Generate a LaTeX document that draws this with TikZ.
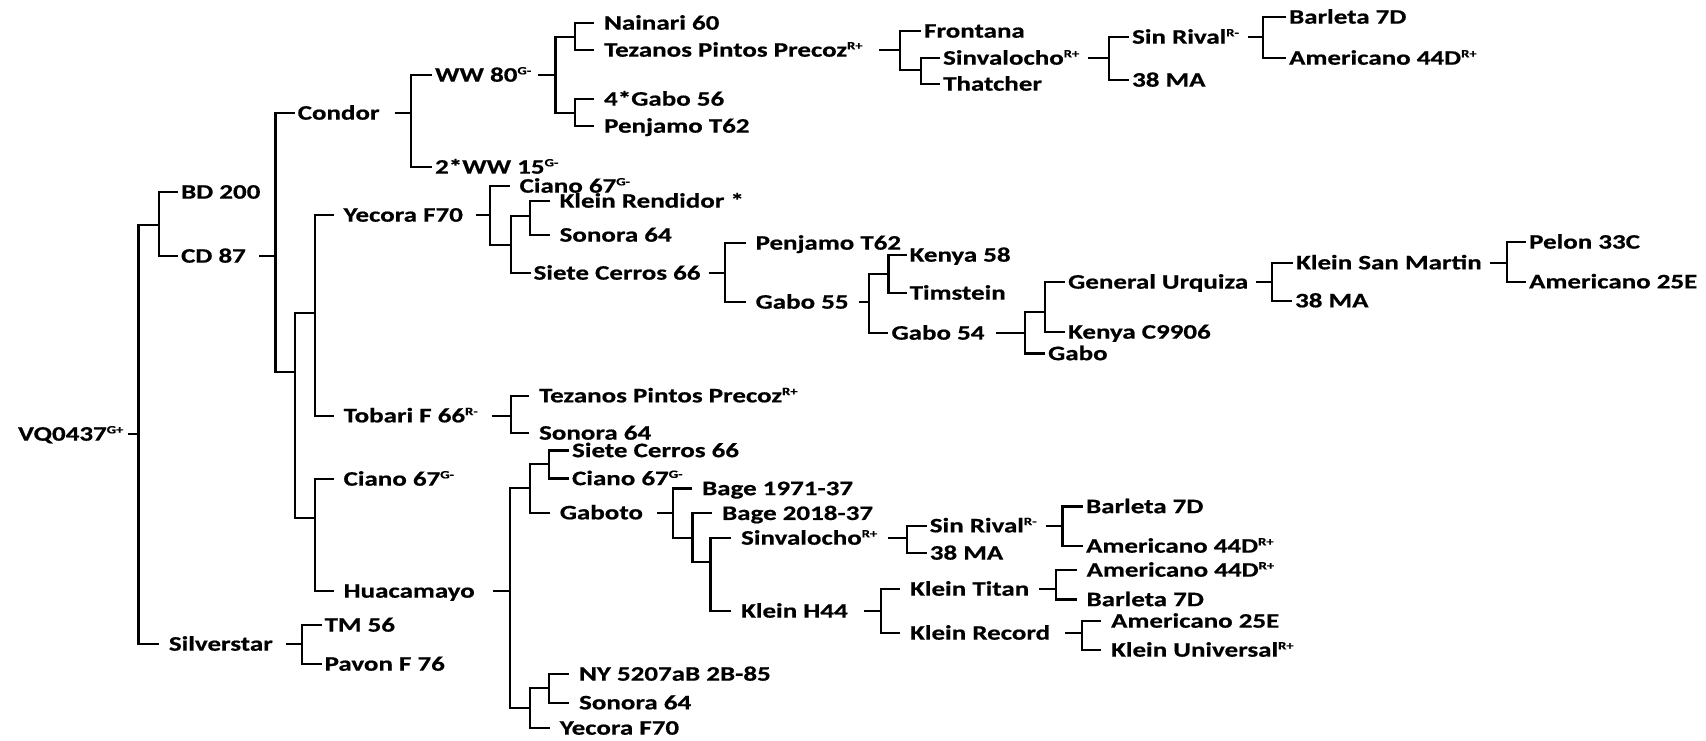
\documentclass[tikz,border=0pt]{standalone}
\usepackage{fontspec}
\setmainfont{Carlito}[FakeStretch=1.31,FakeBold=0.6]
\newcommand\gene[1]{\textsuperscript{\fontsize{5.6}{6}\selectfont #1}}
\begin{document}
\begin{tikzpicture}[x=0.5pt,y=-0.5pt,line width=1.1pt,
  lbl/.style={anchor=west,inner ysep=0pt,inner xsep=1pt,text height=8pt,text depth=1.35pt,font=\fontsize{10.3}{12}\selectfont\bfseries},
  wide/.style={lbl,inner xsep=4.5pt},
  stem/.style={shorten <=#1},stem/.default=2.5pt]
\useasboundingbox (0,0) rectangle (1706,740);

\node[lbl] (vq) at (15,434) {VQ0437\gene{G+}};
\coordinate (jroot) at (138.5,0 |- vq);
\coordinate (jbc) at (158.8,225);
\node[lbl] (bd) at (178,192) {BD 200};
\node[lbl] (cd) at (178,256) {CD 87};
\coordinate (jcd) at (275.5,0 |- cd);
\node[lbl] (condor) at (294.6,113) {Condor};
\coordinate (jcond) at (411,0 |- condor);
\node[lbl] (ww80) at (432,75) {WW 80\gene{G-}};
\node[lbl] (ww15) at (432,167) {2*WW 15\gene{G-}};
\coordinate (jww) at (555.5,0 |- ww80);
\coordinate (jwwa) at (574.6,37);
\coordinate (jwwb) at (574.6,113);
\node[wide] (nainari) at (594,23) {Nainari 60};
\node[wide] (tezanos1) at (594,50) {Tezanos Pintos Precoz\gene{R+}};
\node[wide] (gabo56) at (594,99) {4*Gabo 56};
\node[wide] (penjamo1) at (594,126) {Penjamo T62};
\coordinate (jtez) at (900,0 |- tezanos1);
\node[lbl] (frontana) at (921,31) {Frontana};
\coordinate (jtezb) at (921,70);
\node[lbl] (sinval1) at (940,58) {Sinvalocho\gene{R+}};
\node[lbl] (thatcher) at (940,84) {Thatcher};
\coordinate (jsin1) at (1109,0 |- sinval1);
\node[lbl] (sinrival1) at (1129,37) {Sin Rival\gene{R-}};
\node[lbl] (ma1) at (1129,80) {38 MA};
\coordinate (jsr1) at (1263,0 |- sinrival1);
\node[lbl] (barleta1) at (1286,17) {Barleta 7D};
\node[lbl] (am44a) at (1286,58) {Americano 44D\gene{R+}};

\coordinate (ja) at (294.7,372);
\coordinate (jb) at (314.6,313);
\coordinate (jc) at (314.6,518);
\node[wide] (yecora1) at (333.5,215) {Yecora F70};
\node[wide] (tobari) at (333.5,415.7) {Tobari F 66\gene{R-}};
\coordinate (jyec) at (490,0 |- yecora1);
\node[wide] (ciano1) at (509.5,186) {Ciano 67\gene{G-}};
\coordinate (jyecb) at (511,245);
\coordinate (jyecc) at (530,216);
\node[wide] (rendidor) at (549.5,201) {Klein Rendidor *};
\node[wide] (sonora1) at (549.5,235) {Sonora 64};
\node[lbl] (siete1) at (530.5,273) {Siete Cerros 66};
\coordinate (jsiete) at (725,0 |- siete1);
\node[wide] (penjamo2) at (745.5,243) {Penjamo T62};
\node[wide] (gabo55) at (745.5,302) {Gabo 55};
\coordinate (jg55) at (869,0 |- gabo55);
\coordinate (jg55b) at (888.4,274);
\node[lbl] (kenya58) at (906.5,255) {Kenya 58};
\node[lbl] (timstein) at (906.5,293) {Timstein};
\node[lbl] (gabo54) at (888.4,333) {Gabo 54};
\coordinate (jg54) at (1024.8,0 |- gabo54);
\coordinate (jg54b) at (1045,311.7);
\node[lbl] (urquiza) at (1065,282) {General Urquiza};
\node[lbl] (kenyac) at (1065,332) {Kenya C9906};
\node[lbl] (gabo) at (1045,353.5) {Gabo};
\coordinate (jurq) at (1272,0 |- urquiza);
\node[lbl] (ksm) at (1293,262.7) {Klein San Martin};
\node[lbl] (ma2) at (1292,300.7) {38 MA};
\coordinate (jksm) at (1506.6,0 |- ksm);
\node[lbl] (pelon) at (1526,242) {Pelon 33C};
\node[lbl] (am25a) at (1526,281.7) {Americano 25E};

\coordinate (jtob) at (511,0 |- tobari);
\node[wide] (tezanos2) at (529,395.7) {Tezanos Pintos Precoz\gene{R+}};
\node[wide] (sonora2) at (529,433) {Sonora 64};

\node[wide] (ciano2) at (333.5,479) {Ciano 67\gene{G-}};
\node[wide] (huaca) at (333.5,591) {Huacamayo};
\coordinate (jhua) at (510,0 |- huaca);
\coordinate (jh1) at (529.8,488.3);
\coordinate (jh1a) at (549,464.3);
\node[lbl] (siete2) at (569,450.5) {Siete Cerros 66};
\node[lbl] (ciano3) at (569,478.5) {Ciano 67\gene{G-}};
\node[wide] (gaboto) at (549.7,512.7) {Gaboto};
\coordinate (jgab) at (673,0 |- gaboto);
\node[wide] (bage1) at (692,488.5) {Bage 1971-37};
\coordinate (jgabb) at (692.5,537.7);
\node[wide] (bage2) at (712,513.3) {Bage 2018-37};
\coordinate (jgabc) at (710.5,562.3);
\node[wide] (sinval2) at (731,538) {Sinvalocho\gene{R+}};
\node[wide] (kh44) at (731,611) {Klein H44};
\coordinate (jsin2) at (906.8,0 |- sinval2);
\node[lbl] (sinrival2) at (926.7,525.7) {Sin Rival\gene{R-}};
\node[lbl] (ma3) at (926.7,553) {38 MA};
\coordinate (jsr2) at (1062.5,0 |- sinrival2);
\node[lbl] (barleta2) at (1083,506.5) {Barleta 7D};
\node[lbl] (am44b) at (1083,546) {Americano 44D\gene{R+}};
\coordinate (jkh) at (880.8,0 |- kh44);
\node[wide] (ktitan) at (900,589) {Klein Titan};
\node[wide] (krecord) at (900,633) {Klein Record};
\coordinate (jkt) at (1056,0 |- ktitan);
\node[wide] (am44c) at (1076.5,570) {Americano 44D\gene{R+}};
\node[wide] (barleta3) at (1076.5,599.5) {Barleta 7D};
\coordinate (jkr) at (1081.7,0 |- krecord);
\node[wide] (am25b) at (1101,621) {Americano 25E};
\node[wide] (kuniv) at (1101,650) {Klein Universal\gene{R+}};

\coordinate (jh2) at (529.8,708.3);
\coordinate (jh2a) at (549,688.3);
\node[wide] (ny) at (569,674) {NY 5207aB 2B-85};
\node[wide] (sonora3) at (569,702.7) {Sonora 64};
\node[wide] (yecora2) at (549.7,728) {Yecora F70};

\node[wide] (silver) at (158.8,644) {Silverstar};
\coordinate (jsil) at (301.6,0 |- silver);
\node[lbl] (tm56) at (321.5,625) {TM 56};
\node[lbl] (pavon) at (321.5,664) {Pavon F 76};

\draw (vq) -- (jroot);
\draw (jroot) |- (jbc) (jroot) |- (silver);
\draw (jbc) |- (bd) (jbc) |- (cd);
\draw[stem=5pt] (cd) -- (jcd);
\draw (jcd) |- (condor) (jcd) |- (ja);
\draw[stem=6pt] (condor) -- (jcond);
\draw (jcond) |- (ww80) (jcond) |- (ww15);
\draw[stem=1.5pt] (ww80) -- (jww);
\draw (jww) |- (jwwa) (jww) |- (jwwb);
\draw (jwwa) |- (nainari) (jwwa) |- (tezanos1);
\draw (jwwb) |- (gabo56) (jwwb) |- (penjamo1);
\draw[stem] (tezanos1) -- (jtez);
\draw (jtez) |- (frontana) (jtez) |- (jtezb);
\draw (jtezb) |- (sinval1) (jtezb) |- (thatcher);
\draw[stem] (sinval1) -- (jsin1);
\draw (jsin1) |- (sinrival1) (jsin1) |- (ma1);
\draw[stem] (sinrival1) -- (jsr1);
\draw (jsr1) |- (barleta1) (jsr1) |- (am44a);

\draw (ja) |- (jb) (ja) |- (jc);
\draw (jb) |- (yecora1) (jb) |- (tobari);
\draw[stem=1.5pt] (yecora1) -- (jyec);
\draw (jyec) |- (ciano1) (jyec) |- (jyecb);
\draw (jyecb) |- (jyecc) (jyecb) |- (siete1);
\draw (jyecc) |- (rendidor) (jyecc) |- (sonora1);
\draw[stem] (siete1) -- (jsiete);
\draw (jsiete) |- (penjamo2) (jsiete) |- (gabo55);
\draw (gabo55) -- (jg55);
\draw (jg55) |- (jg55b) (jg55) |- (gabo54);
\draw (jg55b) |- (kenya58) (jg55b) |- (timstein);
\draw[stem=4pt] (gabo54) -- (jg54);
\draw (jg54) |- (jg54b) (jg54) |- (gabo);
\draw (jg54b) |- (urquiza) (jg54b) |- (kenyac);
\draw[stem] (urquiza) -- (jurq);
\draw (jurq) |- (ksm) (jurq) |- (ma2);
\draw[stem] (ksm) -- (jksm);
\draw (jksm) |- (pelon) (jksm) |- (am25a);

\draw[stem=1.5pt] (tobari) -- (jtob);
\draw (jtob) |- (tezanos2) (jtob) |- (sonora2);

\draw (jc) |- (ciano2) (jc) |- (huaca);
\draw[stem=4pt] (huaca) -- (jhua);
\draw (jhua) |- (jh1) (jhua) |- (jh2);
\draw (jh1) |- (jh1a) (jh1) |- (gaboto);
\draw (jh1a) |- (siete2) (jh1a) |- (ciano3);
\draw[stem=2pt] (gaboto) -- (jgab);
\draw (jgab) |- (bage1) (jgab) |- (jgabb);
\draw (jgabb) |- (bage2) (jgabb) |- (jgabc);
\draw (jgabc) |- (sinval2) (jgabc) |- (kh44);
\draw (sinval2) -- (jsin2);
\draw (jsin2) |- (sinrival2) (jsin2) |- (ma3);
\draw[stem] (sinrival2) -- (jsr2);
\draw (jsr2) |- (barleta2) (jsr2) |- (am44b);
\draw[stem=3pt] (kh44) -- (jkh);
\draw (jkh) |- (ktitan) (jkh) |- (krecord);
\draw (ktitan) -- (jkt);
\draw (jkt) |- (am44c) (jkt) |- (barleta3);
\draw[stem=2.5pt] (krecord) -- (jkr);
\draw (jkr) |- (am25b) (jkr) |- (kuniv);
\draw (jh2) |- (jh2a) (jh2) |- (yecora2);
\draw (jh2a) |- (ny) (jh2a) |- (sonora3);

\draw[stem=1.5pt] (silver) -- (jsil);
\draw (jsil) |- (tm56) (jsil) |- (pavon);
\end{tikzpicture}
\end{document}
